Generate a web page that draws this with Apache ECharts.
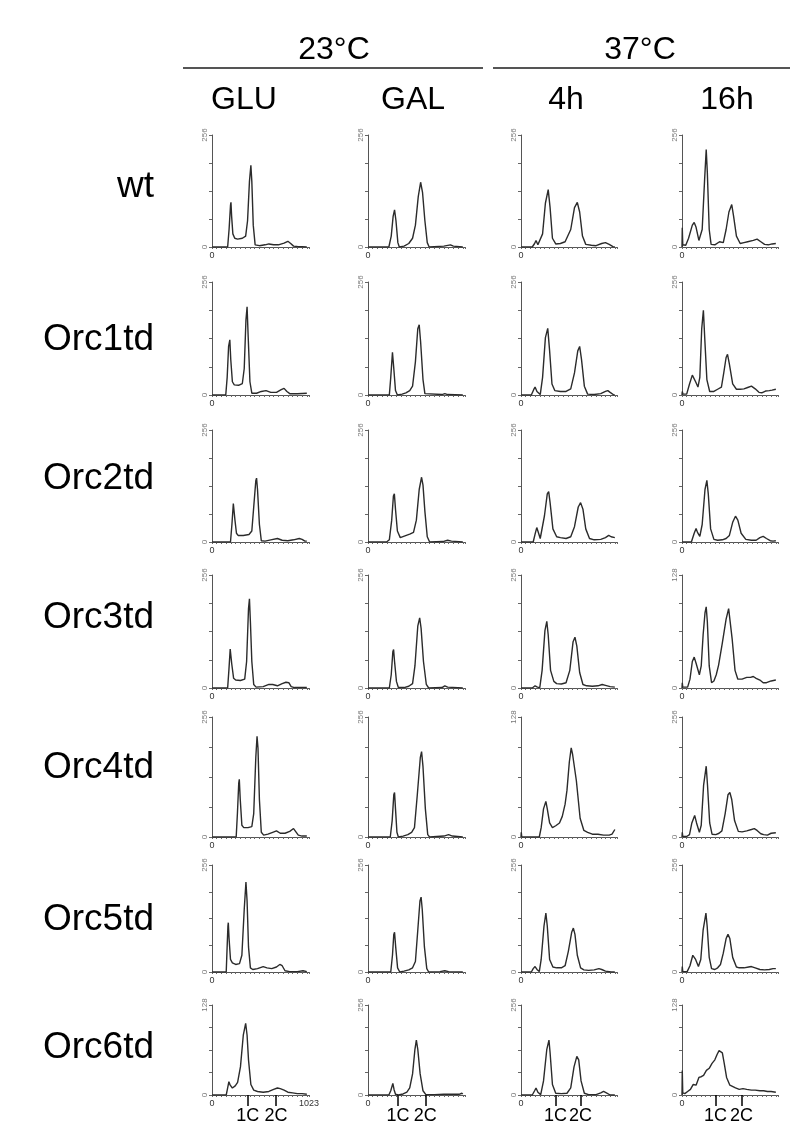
<!DOCTYPE html>
<html><head><meta charset="utf-8">
<script src="https://cdn.jsdelivr.net/npm/echarts@6/dist/echarts.min.js"></script>
<style>html,body{margin:0;padding:0;background:#fff}#c{width:790px;height:1130px}</style>
</head><body><div id="c"></div>
<script>
// ---- labels ----
const groupLabels = ['23°C', '37°C'];
const columnLabels = ['GLU', 'GAL', '4h', '16h'];
const rowLabels = ['wt', 'Orc1td', 'Orc2td', 'Orc3td', 'Orc4td', 'Orc5td', 'Orc6td'];
const ploidyLabels = ['1C', '2C'];
// y-axis top value (counts) per row, per column
const yMaxByRow = [
  [256, 256, 256, 256],
  [256, 256, 256, 256],
  [256, 256, 256, 256],
  [256, 256, 256, 128],
  [256, 256, 128, 256],
  [256, 256, 256, 256],
  [128, 256, 256, 128]
];
// 1C / 2C channel positions under the last row (per column)
const ploidyChannels = [[378, 675], [317, 604], [368, 634], [358, 634]];
// ---- histograms: [DNA content channel, cell count] ----
const wt = [
  [[0,0],[165,0],[180,40],[195,95],[200,102],[207,70],[220,30],[240,20],[270,18],[320,20],[355,25],[375,60],[395,150],[410,187],[420,150],[435,50],[455,5],[500,3],[560,5],[600,7],[650,5],[700,5],[760,9],[800,13],[830,8],[860,2],[900,1],[1000,0]],
  [[0,0],[220,0],[245,25],[265,70],[280,85],[295,60],[315,10],[330,0],[380,2],[430,8],[470,20],[500,50],[530,115],[555,148],[575,125],[600,60],[625,10],[645,0],[800,2],[870,5],[900,2],[1000,0]],
  [[0,0],[120,0],[145,8],[160,15],[180,5],[200,3],[230,30],[260,100],[290,131],[310,90],[335,20],[370,7],[420,8],[470,12],[530,40],[570,90],[600,102],[625,80],[655,25],[690,6],[750,4],[800,3],[860,8],[900,10],[940,6],[980,1],[1000,0]],
  [[0,0],[3,44],[8,5],[40,4],[70,20],[110,50],[130,56],[150,45],[180,15],[195,13],[215,40],[240,150],[258,223],[270,170],[290,40],[310,6],[350,5],[400,12],[420,13],[440,10],[470,40],[500,80],[530,97],[550,70],[580,25],[620,8],[660,10],[700,12],[760,15],[800,18],[840,12],[880,6],[920,5],[960,7],[1000,8]]
];
const orc1td = [
  [[0,0],[145,0],[160,40],[175,110],[188,125],[198,80],[215,30],[235,23],[280,22],[320,26],[340,60],[358,170],[370,200],[382,130],[400,30],[420,4],[470,4],[520,8],[570,10],[620,6],[680,6],[730,12],[760,15],[790,8],[820,3],[900,3],[1000,4]],
  [[0,0],[225,0],[240,40],[258,97],[272,60],[290,10],[310,0],[360,2],[400,5],[440,10],[470,20],[500,75],[525,150],[540,159],[555,120],[580,35],[600,3],[620,0],[780,1],[810,3],[840,1],[1000,0]],
  [[0,0],[110,0],[135,12],[150,18],[170,8],[205,1],[230,40],[260,130],[285,151],[305,100],[330,25],[360,10],[420,8],[480,8],[530,14],[570,50],[605,100],[625,110],[645,80],[675,20],[710,2],[780,1],[850,3],[900,8],[925,10],[950,6],[990,0],[1000,0]],
  [[0,0],[3,8],[10,2],[50,2],[80,25],[110,45],[125,49],[145,30],[170,18],[190,40],[210,150],[228,192],[242,130],[265,35],[295,8],[340,8],[380,13],[420,18],[445,50],[470,85],[485,92],[505,70],[540,25],[580,13],[620,13],[660,14],[700,17],[740,20],[780,14],[820,6],[850,5],[890,9],[930,10],[960,11],[1000,13]]
];
const orc2td = [
  [[0,0],[195,0],[210,40],[225,88],[232,92],[242,50],[258,20],[275,15],[330,15],[390,17],[420,25],[440,80],[462,140],[470,146],[480,120],[500,40],[520,3],[560,2],[620,5],[690,8],[740,4],[800,3],[860,5],[920,8],[950,6],[980,2],[1000,2]],
  [[0,0],[195,0],[225,5],[250,50],[268,105],[278,110],[290,75],[310,25],[340,10],[390,14],[440,18],[480,22],[510,50],[540,120],[565,148],[580,130],[600,70],[625,12],[650,0],[790,1],[840,4],[880,2],[1000,0]],
  [[0,0],[130,0],[150,18],[168,33],[180,25],[205,8],[225,12],[250,60],[280,110],[295,115],[310,90],[340,30],[380,12],[420,10],[480,8],[530,12],[570,35],[610,80],[635,90],[660,75],[690,30],[730,8],[780,5],[850,6],[900,10],[935,15],[960,12],[1000,10]],
  [[0,0],[100,0],[130,20],[150,31],[165,22],[190,13],[215,40],[245,120],[265,141],[280,110],[305,30],[340,6],[380,4],[430,5],[470,8],[505,15],[540,45],[570,59],[595,50],[630,20],[680,6],[740,4],[790,4],[830,10],[865,13],[900,8],[940,3],[970,2],[1000,3]]
];
const orc3td = [
  [[0,0],[165,0],[178,40],[192,88],[198,92],[208,55],[228,22],[250,18],[300,17],[345,20],[365,60],[385,180],[395,202],[405,150],[420,60],[440,8],[465,2],[540,3],[600,8],[640,8],[690,5],[740,10],[780,13],[810,12],[835,3],[870,1],[1000,1]],
  [[0,0],[225,0],[245,30],[262,82],[270,87],[280,60],[300,15],[320,1],[380,1],[430,4],[470,10],[495,50],[525,140],[545,159],[560,135],[585,60],[615,8],[640,0],[780,1],[810,5],[840,2],[1000,0]],
  [[0,0],[120,0],[150,5],[175,2],[200,1],[225,40],[255,130],[275,151],[290,120],[315,40],[350,15],[380,10],[430,9],[480,12],[520,40],[555,105],[575,115],[595,95],[625,35],[660,8],[700,5],[760,4],[820,5],[865,8],[900,6],[950,3],[1000,2]],
  [[0,0],[3,6],[8,1],[60,1],[85,10],[110,30],[130,35],[150,28],[185,15],[205,25],[225,60],[245,85],[258,92],[270,75],[290,25],[315,6],[340,8],[365,15],[390,26],[430,51],[470,78],[497,90],[510,88],[535,55],[565,20],[595,10],[640,10],[690,12],[730,12],[760,13],[790,11],[830,9],[865,6],[900,6],[950,8],[1000,9]]
];
const orc4td = [
  [[0,0],[255,0],[268,50],[282,115],[288,123],[298,80],[315,25],[335,20],[380,20],[420,22],[440,50],[462,170],[475,215],[485,190],[500,80],[520,10],[545,4],[590,6],[640,10],[680,13],[720,8],[770,8],[820,12],[860,18],[880,15],[910,4],[950,2],[1000,2]],
  [[0,0],[235,0],[255,35],[272,90],[280,95],[290,60],[305,10],[320,0],[370,2],[420,5],[460,10],[490,20],[520,90],[552,170],[565,182],[580,150],[605,60],[630,5],[650,0],[800,2],[850,5],[890,2],[1000,0]],
  [[0,0],[3,5],[8,0],[195,0],[215,10],[240,30],[265,38],[280,30],[305,15],[335,10],[370,12],[410,15],[440,22],[470,35],[490,50],[515,80],[535,95],[550,88],[565,87],[590,60],[630,20],[670,7],[710,5],[760,3],[820,3],[880,2],[940,2],[970,3],[1000,8]],
  [[0,0],[3,10],[8,1],[50,1],[80,5],[105,30],[135,46],[155,30],[185,10],[205,25],[230,110],[258,151],[272,110],[295,30],[320,6],[360,5],[395,8],[425,13],[460,50],[490,90],[510,95],[530,80],[560,35],[600,12],[640,11],[690,13],[740,16],[770,18],[800,14],[840,7],[870,5],[910,4],[950,8],[970,10],[1000,9]]
];
const orc5td = [
  [[0,0],[150,0],[158,50],[168,110],[172,118],[180,80],[195,30],[215,22],[250,18],[290,20],[315,40],[340,150],[358,215],[370,170],[385,60],[405,10],[430,6],[480,8],[540,13],[580,10],[630,8],[680,12],[715,18],[740,15],[770,3],[820,1],[900,1],[960,3],[1000,1]],
  [[0,0],[240,0],[258,40],[272,90],[280,95],[292,60],[312,10],[335,0],[380,2],[430,5],[470,10],[500,25],[525,100],[548,170],[560,179],[572,150],[595,60],[620,8],[640,0],[760,1],[810,3],[850,1],[1000,0]],
  [[0,0],[110,0],[130,8],[150,13],[170,6],[195,1],[215,30],[245,110],[265,141],[280,110],[305,30],[340,12],[380,10],[430,10],[470,15],[505,50],[540,95],[558,105],[575,90],[600,40],[635,10],[670,5],[720,4],[780,5],[830,8],[860,6],[900,2],[960,0],[1000,0]],
  [[0,0],[3,13],[8,1],[55,1],[85,15],[115,40],[130,44],[145,30],[175,13],[200,30],[225,100],[255,141],[268,110],[290,35],[315,8],[350,6],[380,10],[410,18],[440,45],[470,80],[490,90],[510,80],[540,35],[580,12],[610,10],[660,10],[710,12],[740,13],[780,10],[830,6],[880,5],[930,6],[970,8],[1000,8]]
];
const orc6td = [
  [[0,0],[150,0],[162,8],[178,19],[192,14],[215,10],[245,13],[270,18],[300,40],[330,85],[355,102],[370,85],[385,50],[410,15],[440,7],[480,5],[540,4],[600,5],[650,8],[690,10],[720,9],[760,7],[800,4],[850,3],[900,2],[950,2],[1000,1]],
  [[0,0],[220,0],[240,12],[262,33],[275,15],[290,2],[320,0],[370,3],[410,8],[440,20],[470,60],[495,130],[510,156],[525,130],[550,60],[580,12],[610,1],[700,1],[800,2],[900,2],[960,2],[990,5],[1000,3]],
  [[0,0],[120,0],[145,12],[160,20],[180,8],[210,1],[240,40],[275,130],[298,156],[310,120],[335,30],[370,5],[430,4],[490,5],[530,20],[565,80],[595,110],[615,100],[640,40],[675,5],[720,1],[800,1],[850,6],[880,10],[910,6],[950,0],[1000,0]],
  [[0,0],[3,35],[8,3],[30,2],[60,5],[90,8],[120,15],[150,14],[180,25],[205,26],[230,28],[260,35],[290,38],[320,45],[350,50],[375,58],[395,63],[410,65],[430,60],[450,45],[475,25],[510,14],[530,12],[570,10],[610,8],[650,9],[690,8],[740,7],[780,7],[830,6],[870,6],[910,5],[950,5],[1000,4]]
];
const histograms = [wt, orc1td, orc2td, orc3td, orc4td, orc5td, orc6td];

// ---- layout (pixels) ----
const colLeft = [212, 368, 521, 682];
const colWidth = [97, 97, 96, 96];
const rowTop = [135, 282, 430, 575, 717, 865, 1005];
const rowHeight = [112, 113, 112, 113, 120, 107, 90];
const X_MAX = 1023;

const grid = [], xAxis = [], yAxis = [], series = [];
const FONT = '"Liberation Sans", Arial, sans-serif';
const plain = v => String(v);
let gi = 0;
for (let r = 0; r < rowLabels.length; r++) {
  for (let c = 0; c < columnLabels.length; c++) {
    const yMax = yMaxByRow[r][c];
    grid.push({ left: colLeft[c], top: rowTop[r], width: colWidth[c], height: rowHeight[r] });
    const lastRow = r === rowLabels.length - 1;
    const xLabelVals = (lastRow && c === 0) ? [0, X_MAX] : [0];
    xAxis.push({
      type: 'value', gridIndex: gi, min: 0, max: X_MAX, interval: 50,
      axisLine: { show: true, lineStyle: { color: '#555', width: 1 } },
      axisTick: { show: true, length: 2, lineStyle: { color: '#666' } },
      axisLabel: { customValues: xLabelVals, formatter: plain, fontSize: 9, color: '#333', margin: 4, fontFamily: FONT },
      splitLine: { show: false }
    });
    yAxis.push({
      type: 'value', gridIndex: gi, min: 0, max: yMax, interval: yMax / 4,
      axisLine: { show: true, lineStyle: { color: '#555', width: 1 } },
      axisTick: { show: true, length: 3, lineStyle: { color: '#666' } },
      axisLabel: { customValues: [0, yMax], formatter: plain, rotate: 90, fontSize: 8, color: '#777', margin: 3, fontFamily: FONT },
      splitLine: { show: false }
    });
    series.push({
      type: 'line', xAxisIndex: gi, yAxisIndex: gi, data: histograms[r][c],
      showSymbol: false, silent: true, animation: false,
      lineStyle: { color: '#2b2b2b', width: 1.4 }
    });
    gi++;
  }
}
// ploidy marker axes under the last row
const last = rowLabels.length - 1;
for (let c = 0; c < columnLabels.length; c++) {
  const pc = ploidyChannels[c];
  grid.push({ left: colLeft[c], top: rowTop[last], width: colWidth[c], height: rowHeight[last] });
  xAxis.push({
    type: 'value', gridIndex: gi, min: 0, max: X_MAX, position: 'bottom',
    axisLine: { show: false },
    axisTick: { show: true, customValues: pc, length: 11, lineStyle: { color: '#000', width: 1.5 } },
    axisLabel: { customValues: pc, formatter: v => v === pc[0] ? ploidyLabels[0] : ploidyLabels[1],
      fontSize: 18, color: '#000', margin: 12, fontFamily: FONT },
    splitLine: { show: false }
  });
  yAxis.push({ type: 'value', gridIndex: gi, min: 0, max: 1, show: false });
  gi++;
}

const graphic = [];
// group headers
const groupCenters = [334, 640];
const groupLines = [[183, 483], [493, 790]];
groupLabels.forEach((t, i) => {
  graphic.push({ type: 'text', x: groupCenters[i], y: 50,
    style: { text: t, textAlign: 'center', textVerticalAlign: 'middle', font: '32px ' + FONT, fill: '#000' } });
  graphic.push({ type: 'line', shape: { x1: groupLines[i][0], y1: 68, x2: groupLines[i][1], y2: 68 },
    style: { stroke: '#555', lineWidth: 2 } });
});
const colCenters = [244, 413, 566, 727];
columnLabels.forEach((t, i) => {
  graphic.push({ type: 'text', x: colCenters[i], y: 100,
    style: { text: t, textAlign: 'center', textVerticalAlign: 'middle', font: '32px ' + FONT, fill: '#000' } });
});
const rowCenters = [187, 340, 479, 618, 768, 920, 1048];
rowLabels.forEach((t, i) => {
  graphic.push({ type: 'text', x: 154, y: rowCenters[i],
    style: { text: t, textAlign: 'right', textVerticalAlign: 'middle', font: '37px ' + FONT, fill: '#000' } });
});

const chart = echarts.init(document.getElementById('c'), null, { renderer: 'canvas' });
chart.setOption({ animation: false, backgroundColor: '#fff', grid, xAxis, yAxis, series, graphic });
</script></body></html>
